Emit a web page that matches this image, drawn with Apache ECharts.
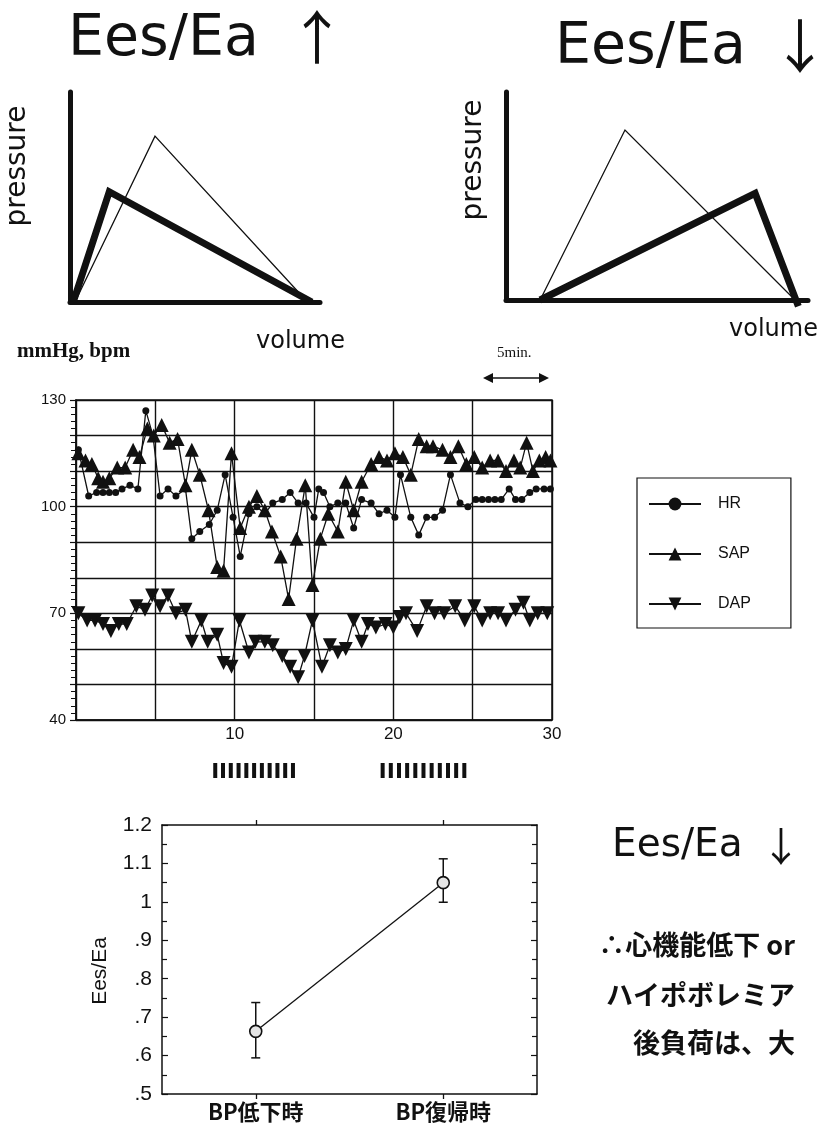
<!DOCTYPE html>
<html><head><meta charset="utf-8">
<script src="https://cdn.jsdelivr.net/npm/echarts@6/dist/echarts.min.js"></script>
<style>html,body{margin:0;padding:0;background:#fff}#c{width:823px;height:1128px}</style>
</head><body><div id="c"></div>
<script>
// ---- PV loop sketches (arbitrary units 0-100) ----
const pvLeftThinVol = [2, 34, 95];
const pvLeftThinPres = [0, 79, 0];
const pvLeftThickVol = [1.3, 15.7, 96.7];
const pvLeftThickPres = [0, 52.5, 0];
const pvRightThinVol = [11.3, 39.4, 95.7];
const pvRightThinPres = [0, 81.7, 0];
const pvRightThickVol = [11.3, 82.5, 96.8];
const pvRightThickPres = [0, 51.3, -3];

// ---- time course (min) ----
const hrTime = [0.15,0.8,1.3,1.7,2.1,2.5,2.9,3.4,3.9,4.4,4.85,5.3,5.8,6.3,6.9,7.3,7.8,8.4,8.9,9.4,9.9,10.35,10.9,11.4,11.9,12.4,13.0,13.5,14.0,14.5,15.0,15.3,15.6,16.0,16.5,17.0,17.5,18.0,18.6,19.1,19.6,20.1,20.45,21.1,21.6,22.1,22.6,23.1,23.6,24.2,24.7,25.2,25.6,26.0,26.4,26.8,27.3,27.7,28.1,28.6,29.0,29.5,29.9];
const hrVal = [116,103,104,104,104,104,105,106,105,127,120,103,105,103,105,91,93,95,99,109,97,86,98,100,98,101,102,104,101,101,97,105,104,100,101,101,94,102,101,98,99,97,109,97,92,97,97,99,109,101,100,102,102,102,102,102,105,102,102,104,105,105,105];
const sapTime = [0.15,0.6,1.0,1.4,1.7,2.1,2.6,3.1,3.6,4.0,4.5,4.9,5.4,5.9,6.4,6.9,7.3,7.8,8.35,8.9,9.3,9.8,10.35,10.9,11.4,11.9,12.35,12.9,13.4,13.9,14.45,14.9,15.4,15.9,16.5,17.0,17.5,18.0,18.6,19.1,19.6,20.1,20.6,21.1,21.6,22.1,22.5,23.1,23.6,24.1,24.6,25.1,25.6,26.1,26.6,27.1,27.6,28.0,28.4,28.8,29.2,29.6,29.9];
const sapVal = [115,113,112,108,107,108,111,111,116,114,122,120,123,118,119,106,116,109,99,83,82,115,94,100,103,99,93,86,74,91,106,78,91,98,93,107,99,107,112,114,113,115,114,109,119,117,117,116,114,117,112,114,111,113,113,110,113,111,118,110,113,114,113];
const dapTime = [0.15,0.7,1.2,1.7,2.2,2.7,3.2,3.8,4.35,4.8,5.3,5.8,6.3,6.9,7.3,7.9,8.3,8.9,9.3,9.8,10.3,10.9,11.3,11.9,12.4,13.0,13.5,14.0,14.4,14.9,15.5,16.0,16.5,17.0,17.5,18.0,18.4,18.9,19.5,20.0,20.4,20.8,21.5,22.1,22.6,23.2,23.9,24.5,25.1,25.6,26.1,26.6,27.1,27.7,28.2,28.6,29.1,29.7];
const dapVal = [70,68,68,67,65,67,67,72,71,75,72,75,70,71,62,68,62,64,56,55,68,59,62,62,61,58,55,52,58,68,55,61,59,60,68,62,67,66,67,66,69,70,65,72,70,70,72,68,72,68,70,70,68,71,73,68,70,70];
const timeTickLabels = [10, 20, 30];
const pressureTickLabels = [130, 100, 70, 40];
const markedPeriods = [[8.65, 13.8], [19.2, 24.6]];

// ---- Ees/Ea summary ----
const groups = ['BP低下時', 'BP復帰時'];
const eesEaMean = [0.663, 1.05];
const eesEaLow = [0.594, 0.999];
const eesEaHigh = [0.738, 1.112];
const eesTickLabels = ['.5', '.6', '.7', '.8', '.9', '1', '1.1', '1.2'];

const zip = (a, b) => a.map((v, i) => [v, b[i]]);
const INK = '#111';
const SANS = '"Liberation Sans", "DejaVu Sans", "Noto Sans CJK JP"';
const WIDE = '"DejaVu Sans", "Liberation Sans"';
const CJK = '"Noto Sans CJK JP", "Liberation Sans"';

const pvAxisX = (g) => ({gridIndex: g, type: 'value', min: 0, max: 100, axisLine: {show: true, onZero: false, lineStyle: {color: INK, width: 5}}, axisTick: {show: false}, axisLabel: {show: false}, splitLine: {show: false}});
const pvAxisY = (g) => ({gridIndex: g, type: 'value', min: 0, max: 100, axisLine: {show: true, onZero: false, lineStyle: {color: INK, width: 5}}, axisTick: {show: false}, axisLabel: {show: false}, splitLine: {show: false}});
const pvLine = (ax, vol, pres, w) => ({type: 'line', xAxisIndex: ax, yAxisIndex: ax, data: zip(vol, pres), symbol: 'none', clip: false, silent: true, lineStyle: {color: INK, width: w, join: 'miter'}, z: 5});

const chart = echarts.init(document.getElementById('c'), null, {renderer: 'canvas'});
const option = {
  backgroundColor: '#fff',
  animation: false,
  grid: [
    {left: 70, top: 92, width: 250, height: 210, outerBoundsMode: 'none'},
    {left: 506, top: 92, width: 302, height: 208, outerBoundsMode: 'none'},
    {left: 76, top: 400, width: 476, height: 320, outerBoundsMode: 'none', show: true, borderColor: INK, borderWidth: 1.5},
    {left: 162, top: 825, width: 375, height: 269, outerBoundsMode: 'none'}
  ],
  xAxis: [
    pvAxisX(0), pvAxisX(1),
    {gridIndex: 2, type: 'value', min: 0, max: 30, interval: 5,
     axisLine: {show: true, onZero: false, lineStyle: {color: INK, width: 1.5}},
     axisTick: {show: false},
     axisLabel: {color: INK, fontSize: 17, fontFamily: SANS, margin: 6, formatter: v => timeTickLabels.includes(v) ? String(v) : ''},
     splitLine: {show: true, lineStyle: {color: INK, width: 1.4}}},
    {gridIndex: 3, type: 'category', data: groups, boundaryGap: true,
     axisLine: {show: true, onZero: false, lineStyle: {color: INK, width: 1.5}},
     axisTick: {show: true, alignWithLabel: true, length: 5, lineStyle: {color: INK, width: 1.3}},
     axisLabel: {color: INK, fontSize: 22, fontWeight: 'bold', fontFamily: CJK, margin: 7},
     splitLine: {show: false}},
    {gridIndex: 3, type: 'category', data: groups, position: 'top', boundaryGap: true,
     axisLine: {show: true, onZero: false, lineStyle: {color: INK, width: 1.5}},
     axisTick: {show: true, alignWithLabel: true, length: 5, lineStyle: {color: INK, width: 1.3}},
     axisLabel: {show: false}, splitLine: {show: false}}
  ],
  yAxis: [
    pvAxisY(0), pvAxisY(1),
    {gridIndex: 2, type: 'value', min: 40, max: 130, interval: 10,
     axisLine: {show: true, onZero: false, lineStyle: {color: INK, width: 1.5}},
     axisTick: {show: true, length: 6, lineStyle: {color: INK, width: 1.2}},
     minorTick: {show: true, splitNumber: 5, length: 5, lineStyle: {color: INK, width: 1}},
     axisLabel: {color: INK, fontSize: 15, fontFamily: SANS, margin: 10, formatter: v => pressureTickLabels.includes(v) ? String(v) : ''},
     splitLine: {show: true, lineStyle: {color: INK, width: 1.4}}},
    {gridIndex: 3, type: 'value', min: 0.5, max: 1.2, interval: 0.1,
     axisLine: {show: true, onZero: false, lineStyle: {color: INK, width: 1.5}},
     axisTick: {show: true, inside: true, length: 6, lineStyle: {color: INK, width: 1.2}},
     minorTick: {show: true, splitNumber: 2, length: 5, lineStyle: {color: INK, width: 1.2}},
     axisLabel: {color: INK, fontSize: 21, fontFamily: SANS, margin: 10, formatter: v => eesTickLabels[Math.round((v - 0.5) * 10)]},
     splitLine: {show: false}},
    {gridIndex: 3, type: 'value', min: 0.5, max: 1.2, interval: 0.1, position: 'right',
     axisLine: {show: true, onZero: false, lineStyle: {color: INK, width: 1.5}},
     axisTick: {show: true, inside: true, length: 6, lineStyle: {color: INK, width: 1.2}},
     minorTick: {show: true, splitNumber: 2, length: 5, lineStyle: {color: INK, width: 1.2}},
     axisLabel: {show: false}, splitLine: {show: false}}
  ],
  legend: {
    data: ['HR', 'SAP', 'DAP'],
    orient: 'vertical', left: 637, top: 478,
    padding: [18, 40, 16, 11], itemGap: 34, itemWidth: 52, itemHeight: 16,
    borderColor: INK, borderWidth: 1.2, backgroundColor: '#fff',
    textStyle: {color: INK, fontSize: 16, fontFamily: SANS, padding: [0, 0, 0, 12]},
    selectedMode: false
  },
  series: [
    pvLine(0, pvLeftThinVol, pvLeftThinPres, 1.3),
    pvLine(0, pvLeftThickVol, pvLeftThickPres, 7),
    pvLine(1, pvRightThinVol, pvRightThinPres, 1.3),
    pvLine(1, pvRightThickVol, pvRightThickPres, 7),
    {name: 'HR', type: 'line', xAxisIndex: 2, yAxisIndex: 2, data: zip(hrTime, hrVal),
     symbol: 'circle', symbolSize: 7, color: INK, itemStyle: {color: INK},
     lineStyle: {color: INK, width: 1.3}, z: 6},
    {name: 'SAP', type: 'line', xAxisIndex: 2, yAxisIndex: 2, data: zip(sapTime, sapVal),
     symbol: 'triangle', symbolSize: 14, color: INK, itemStyle: {color: INK},
     lineStyle: {color: INK, width: 1.3}, z: 5},
    {name: 'DAP', type: 'line', xAxisIndex: 2, yAxisIndex: 2, data: zip(dapTime, dapVal),
     symbol: 'triangle', symbolRotate: 180, symbolSize: 14, color: INK, itemStyle: {color: INK},
     lineStyle: {color: INK, width: 1.3}, z: 5},
    {type: 'custom', xAxisIndex: 2, yAxisIndex: 2, clip: false, silent: true,
     data: markedPeriods, encode: {x: [0, 1]},
     renderItem: (p, api) => {
       const s = api.coord([api.value(0), 40]);
       const e = api.coord([api.value(1), 40]);
       const n = 11, w = 4, h = 15;
       const step = (e[0] - s[0] - w) / (n - 1);
       const ch = [];
       for (let i = 0; i < n; i++) ch.push({type: 'rect', shape: {x: s[0] + i * step, y: s[1] + 43, width: w, height: h}, style: {fill: INK}});
       return {type: 'group', children: ch};
     }},
    {type: 'custom', xAxisIndex: 3, yAxisIndex: 3, silent: true, z: 2,
     data: groups.map((g, i) => [i, eesEaLow[i], eesEaHigh[i]]), encode: {x: 0, y: [1, 2]},
     renderItem: (p, api) => {
       const lo = api.coord([api.value(0), api.value(1)]);
       const hi = api.coord([api.value(0), api.value(2)]);
       const c = 4.5;
       const st = {stroke: INK, lineWidth: 1.5};
       return {type: 'group', children: [
         {type: 'line', shape: {x1: lo[0], y1: lo[1], x2: hi[0], y2: hi[1]}, style: st},
         {type: 'line', shape: {x1: lo[0] - c, y1: lo[1], x2: lo[0] + c, y2: lo[1]}, style: st},
         {type: 'line', shape: {x1: hi[0] - c, y1: hi[1], x2: hi[0] + c, y2: hi[1]}, style: st}
       ]};
     }},
    {type: 'line', xAxisIndex: 3, yAxisIndex: 3, data: eesEaMean, symbol: 'circle', symbolSize: 12, z: 4,
     lineStyle: {color: INK, width: 1.3}, itemStyle: {color: '#e4e4e4', borderColor: INK, borderWidth: 1.6}}
  ],
  graphic: [
    {type: 'text', x: 68, y: 40, style: {text: 'Ees/Ea', fontSize: 57, fontFamily: WIDE, fill: INK, verticalAlign: 'middle'}},
    {type: 'text', x: 317, y: 37, style: {text: '↑', fontSize: 58, fontFamily: CJK, fill: INK, align: 'center', verticalAlign: 'middle'}},
    {type: 'text', x: 555, y: 48, style: {text: 'Ees/Ea', fontSize: 57, fontFamily: WIDE, fill: INK, verticalAlign: 'middle'}},
    {type: 'text', x: 800, y: 46, style: {text: '↓', fontSize: 58, fontFamily: CJK, fill: INK, align: 'center', verticalAlign: 'middle'}},
    {type: 'text', x: 18, y: 166, rotation: Math.PI / 2, style: {text: 'pressure', fontSize: 28, fontFamily: '"DejaVu Sans"', fill: INK, align: 'center', verticalAlign: 'middle'}},
    {type: 'text', x: 474, y: 160, rotation: Math.PI / 2, style: {text: 'pressure', fontSize: 28, fontFamily: '"DejaVu Sans"', fill: INK, align: 'center', verticalAlign: 'middle'}},
    {type: 'text', x: 256, y: 342, style: {text: 'volume', fontSize: 24, fontFamily: '"DejaVu Sans"', fill: INK, verticalAlign: 'middle'}},
    {type: 'text', x: 729, y: 330, style: {text: 'volume', fontSize: 24, fontFamily: '"DejaVu Sans"', fill: INK, verticalAlign: 'middle'}},
    {type: 'text', x: 17, y: 352, style: {text: 'mmHg, bpm', fontSize: 21, fontWeight: 'bold', fontFamily: '"Liberation Serif"', fill: INK, verticalAlign: 'middle'}},
    {type: 'text', x: 497, y: 353, style: {text: '5min.', fontSize: 15, fontFamily: '"Liberation Serif"', fill: INK, verticalAlign: 'middle'}},
    {type: 'line', shape: {x1: 488, y1: 378, x2: 544, y2: 378}, style: {stroke: INK, lineWidth: 1.5}},
    {type: 'polygon', shape: {points: [[483, 378], [493, 373], [493, 383]]}, style: {fill: INK}},
    {type: 'polygon', shape: {points: [[549, 378], [539, 373], [539, 383]]}, style: {fill: INK}},
    {type: 'text', x: 100, y: 971, rotation: Math.PI / 2, style: {text: 'Ees/Ea', fontSize: 21, fontFamily: SANS, fill: INK, align: 'center', verticalAlign: 'middle'}},
    {type: 'text', x: 612, y: 846, style: {text: 'Ees/Ea', fontSize: 39, fontFamily: WIDE, fill: INK, verticalAlign: 'middle'}},
    {type: 'text', x: 781, y: 846, style: {text: '↓', fontSize: 40, fontFamily: CJK, fill: INK, align: 'center', verticalAlign: 'middle'}},
    {type: 'text', x: 795, y: 945, style: {text: '∴心機能低下 or', fontSize: 27, fontWeight: 'bold', fontFamily: CJK, fill: INK, align: 'right', verticalAlign: 'middle'}},
    {type: 'text', x: 795, y: 995, style: {text: 'ハイポボレミア', fontSize: 27, fontWeight: 'bold', fontFamily: CJK, fill: INK, align: 'right', verticalAlign: 'middle'}},
    {type: 'text', x: 795, y: 1043, style: {text: '後負荷は、大', fontSize: 27, fontWeight: 'bold', fontFamily: CJK, fill: INK, align: 'right', verticalAlign: 'middle'}}
  ]
};
chart.setOption(option);
</script>
</body></html>
